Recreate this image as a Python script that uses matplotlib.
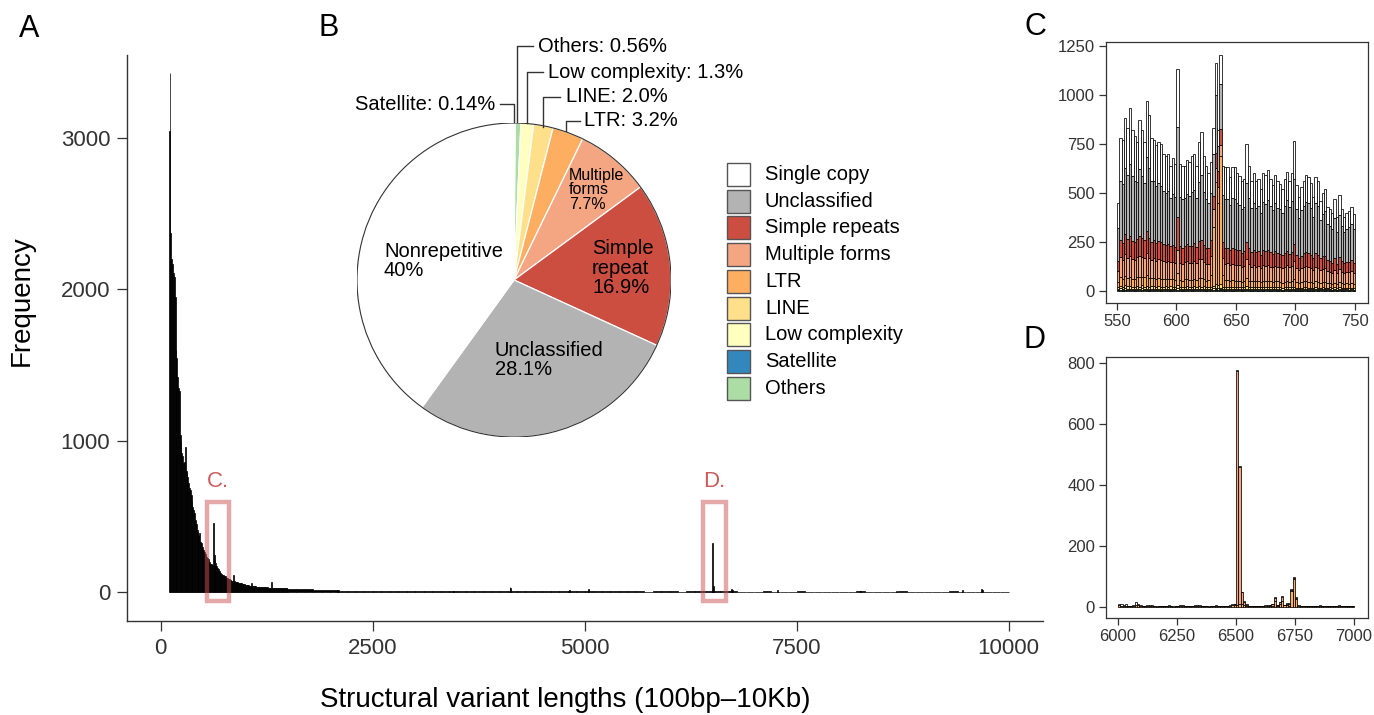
import numpy as np
import matplotlib
matplotlib.use("Agg")
import matplotlib.pyplot as plt
from matplotlib.patches import Rectangle, Circle

plt.rcParams['font.family'] = ['Liberation Sans', 'DejaVu Sans']

# ---------------- data ----------------
# Panel A : length histogram (10 bp bins for the head, coarse tail, tail spikes)
a_bin = 10
a_head_first = 100
a_head_counts = [
    3047, 3432, 2373, 2200, 2168, 2108, 2080, 1950, 1600, 1545,
    1423, 1348, 1330, 1040, 1000, 918, 900, 852, 860, 960,
    800, 787, 760, 720, 690, 674, 640, 600, 560, 542,
    520, 476, 450, 410, 395, 370, 390, 330, 322, 300,
    285, 278, 262, 250, 233, 225, 215, 200, 195, 188,
    182, 175, 459, 245, 210, 190, 170, 160, 150, 140,
    130, 125, 118, 115, 110, 108, 105, 100, 95, 92,
    88, 85, 82, 78, 75, 72, 112, 70, 68, 66,
    65, 63, 60, 58, 57, 56, 55, 53, 52, 50,
    48, 47, 46, 45, 44, 42, 41, 59, 40, 39,
    38, 38, 37, 36, 36, 35, 35, 34, 34, 33,
    33, 32, 32, 31, 31, 30, 30, 29, 29, 28,
    28, 66, 28, 27, 27, 27, 26, 26, 26, 26,
    26, 25, 25, 25, 24, 24, 24, 23, 23, 23,
    22]
a_tail_first = 1550
a_tail_bin = 100
a_tail_counts = [
    21, 19, 18, 16, 14,
    10, 9, 9, 8, 8, 7, 7, 7, 6, 6,
    6, 5, 5, 5, 5, 4, 5, 4, 4, 4,
    4, 4, 4, 4, 3, 4, 3, 3, 4, 3,
    3, 3, 3, 3, 3, 3, 3, 2, 3, 3,
    3, 2, 3, 3, 3, 3, 3, 3, 2, 2,
    2, 3, 2, 2, 2, 3, 2, 2, 2, 2,
    2, 2, 3, 2, 2, 2, 2, 3, 2, 2,
    2, 2, 2, 3, 2, 2, 2, 2, 2, 2]
a_spike_pos = [2090, 3450, 4120, 4130, 4820, 5040, 6510, 6520, 6730, 6740,
               7270, 8250, 8680, 9450, 9680, 9690]
a_spike_counts = [12, 9, 31, 28, 15, 22, 326, 40, 18, 14, 10, 5, 6, 14, 20, 12]
a_xticks = [0, 2500, 5000, 7500, 10000]
a_yticks = [0, 1000, 2000, 3000]

# Categories (legend order = top of stack first)
categories = ['Single copy', 'Unclassified', 'Simple repeats', 'Multiple forms',
              'LTR', 'LINE', 'Low complexity', 'Satellite', 'Others']
cat_colors = ['#ffffff', '#b3b3b3', '#cb4e41', '#f4a582', '#fdae61',
              '#fee08b', '#ffffbf', '#3288bd', '#abdda4']

# Panel B : pie (clockwise from 12 o'clock)
pie_cats = ['Satellite', 'Others', 'Low complexity', 'LINE', 'LTR',
            'Multiple forms', 'Simple repeats', 'Unclassified', 'Single copy']
pie_values = [0.14, 0.56, 1.3, 2.0, 3.2, 7.7, 16.9, 28.1, 40.0]

# Panel C : 550-750 bp, 2 bp bins, stacked by category
c_first = 550
c_bin = 2
c_single = [130, 218, 224, 251, 237, 286, 234, 229, 203, 250,
            231, 209, 285, 271, 218, 210, 211, 210, 212, 189,
            189, 190, 164, 185, 172, 293, 171, 170, 164, 176,
            176, 184, 187, 165, 206, 220, 184, 169, 152, 158,
            133, 167, 80, 147, 150, 161, 159, 143, 162, 163,
            153, 146, 140, 142, 199, 163, 138, 152, 138, 138,
            124, 146, 147, 153, 138, 129, 141, 134, 129, 122,
            134, 140, 129, 142, 194, 124, 105, 119, 126, 137,
            130, 125, 104, 130, 124, 99, 108, 114, 89, 87,
            85, 98, 78, 103, 89, 77, 83, 85, 88, 81]
c_unclass = [166, 300, 300, 340, 330, 370, 330, 310, 290, 340,
             320, 290, 380, 360, 310, 300, 290, 295, 290, 270,
             265, 270, 245, 260, 255, 457, 250, 250, 245, 255,
             255, 275, 270, 250, 300, 330, 270, 250, 230, 240,
             210, 293, 130, 231, 240, 250, 250, 230, 255, 255,
             240, 230, 225, 225, 300, 260, 225, 240, 225, 230,
             210, 245, 240, 255, 235, 220, 245, 230, 225, 215,
             240, 260, 240, 260, 330, 230, 205, 230, 240, 255,
             255, 240, 205, 255, 250, 195, 215, 225, 185, 180,
             170, 205, 162, 215, 180, 162, 170, 175, 185, 170]
c_simple = [50, 90, 90, 100, 95, 100, 95, 92, 95, 100,
            95, 92, 110, 100, 92, 94, 90, 92, 90, 88,
            86, 88, 84, 86, 82, 170, 84, 82, 84, 86,
            84, 86, 88, 82, 92, 96, 86, 82, 80, 85,
            70, 80, 80, 80, 82, 80, 80, 76, 80, 78,
            76, 76, 72, 74, 90, 80, 72, 76, 72, 74,
            68, 76, 74, 76, 72, 70, 74, 71, 70, 68,
            72, 74, 70, 72, 88, 68, 62, 66, 70, 72,
            72, 68, 62, 70, 68, 60, 64, 66, 56, 54,
            52, 60, 50, 62, 54, 50, 52, 54, 56, 52]
c_mult = [60, 100, 95, 110, 100, 105, 98, 96, 100, 108,
          100, 98, 115, 104, 96, 98, 94, 96, 95, 92,
          90, 92, 88, 90, 86, 120, 88, 86, 88, 90,
          88, 90, 92, 86, 96, 100, 90, 86, 84, 95,
          90, 70, 80, 60, 86, 84, 84, 80, 84, 82,
          80, 80, 76, 78, 96, 84, 76, 80, 76, 78,
          72, 80, 78, 80, 76, 74, 78, 75, 74, 72,
          76, 78, 74, 76, 92, 72, 66, 70, 74, 76,
          76, 72, 66, 74, 72, 64, 68, 70, 60, 58,
          56, 64, 54, 66, 58, 54, 56, 58, 60, 56]
c_ltr = [25, 45, 40, 50, 44, 48, 42, 40, 46, 50,
         44, 48, 52, 45, 40, 42, 38, 42, 40, 38,
         36, 38, 35, 37, 34, 60, 35, 33, 36, 38,
         35, 36, 38, 34, 40, 42, 36, 34, 32, 60,
         300, 520, 420, 650, 60, 36, 34, 30, 33, 32,
         30, 31, 28, 30, 40, 33, 28, 31, 29, 30,
         27, 31, 30, 32, 29, 28, 30, 29, 28, 27,
         29, 31, 28, 30, 38, 28, 25, 27, 28, 30,
         29, 28, 25, 29, 28, 24, 26, 27, 23, 22,
         21, 24, 20, 25, 22, 20, 21, 22, 23, 21]
c_line = [10, 14, 12, 15, 13, 14, 12, 13, 14, 12,
          15, 13, 16, 12, 13, 14, 12, 13, 14, 12,
          13, 12, 14, 12, 11, 15, 12, 11, 12, 13,
          12, 11, 13, 12, 14, 13, 12, 11, 12, 12,
          14, 18, 16, 20, 12, 11, 12, 11, 12, 11,
          11, 12, 10, 11, 13, 11, 12, 11, 10, 11,
          10, 12, 11, 10, 11, 10, 11, 12, 10, 9,
          10, 11, 10, 11, 12, 10, 9, 10, 11, 10,
          10, 9, 10, 11, 10, 9, 10, 10, 9, 10,
          9, 10, 9, 10, 9, 9, 10, 9, 9, 8]
c_lowc = [5, 7, 6, 8, 6, 7, 5, 6, 7, 6,
          8, 6, 7, 5, 6, 7, 6, 5, 6, 7,
          6, 5, 7, 6, 5, 8, 6, 5, 6, 7,
          6, 5, 6, 7, 6, 5, 6, 5, 6, 6,
          7, 9, 8, 9, 6, 5, 6, 5, 6, 5,
          6, 5, 5, 6, 7, 5, 6, 5, 5, 6,
          5, 6, 5, 5, 6, 5, 5, 6, 5, 4,
          5, 6, 5, 5, 6, 5, 4, 5, 6, 5,
          5, 4, 5, 6, 5, 4, 5, 5, 4, 5,
          4, 5, 4, 5, 4, 5, 4, 4, 5, 4]
c_sat = [1, 2, 1, 1, 2, 1, 1, 2, 1, 1,
         2, 1, 1, 1, 2, 1, 1, 2, 1, 1,
         1, 2, 1, 1, 1, 2, 1, 1, 2, 1,
         1, 1, 2, 1, 1, 1, 2, 1, 1, 1,
         2, 2, 1, 2, 1, 1, 1, 2, 1, 1,
         1, 1, 2, 1, 1, 1, 1, 2, 1, 1,
         1, 2, 1, 1, 1, 1, 2, 1, 1, 1,
         1, 1, 2, 1, 1, 1, 1, 1, 2, 1,
         1, 1, 1, 2, 1, 1, 1, 1, 1, 2,
         1, 1, 1, 1, 2, 1, 1, 1, 1, 1]
c_others = [3, 4, 2, 5, 3, 4, 3, 2, 4, 3,
            5, 3, 4, 2, 3, 4, 3, 5, 2, 3,
            4, 3, 2, 3, 4, 5, 3, 2, 3, 4,
            3, 2, 4, 3, 5, 3, 4, 2, 3, 3,
            4, 6, 5, 6, 3, 2, 4, 3, 2, 3,
            3, 4, 2, 3, 4, 3, 2, 3, 4, 2,
            3, 2, 4, 3, 2, 3, 4, 2, 3, 2,
            3, 4, 2, 3, 4, 2, 3, 2, 3, 4,
            2, 3, 2, 3, 2, 4, 3, 2, 3, 2,
            2, 3, 2, 3, 2, 2, 3, 2, 3, 2]
c_xticks = [550, 600, 650, 700, 750]
c_yticks = [0, 250, 500, 750, 1000, 1250]

# Panel D : 6000-7000 bp, 10 bp bins
d_first = 6000
d_bin = 10
d_single = [6, 5, 2, 5, 1, 2, 3, 8, 6, 2,
            1, 2, 3, 2, 3, 1, 2, 1, 2, 1,
            2, 3, 1, 2, 1, 2, 3, 4, 1, 2,
            1, 2, 3, 4, 3, 2, 1, 2, 1, 1,
            2, 3, 2, 1, 2, 1, 2, 3, 4, 2,
            3, 2, 1, 2, 1, 1, 2, 1, 2, 1,
            2, 1, 3, 4, 1, 2, 1, 2, 1, 2,
            1, 2, 3, 2, 1, 2, 1, 1, 2, 1,
            2, 1, 1, 2, 1, 3, 1, 2, 1, 1,
            2, 1, 2, 3, 1, 2, 1, 1, 2, 1]
d_mult = [0, 0, 1, 0, 0, 0, 0, 1, 0, 0,
          0, 0, 0, 0, 0, 0, 0, 0, 0, 0,
          0, 0, 0, 0, 0, 0, 1, 0, 0, 0,
          0, 0, 0, 1, 0, 0, 0, 0, 0, 0,
          0, 0, 0, 0, 0, 0, 0, 0, 2, 3,
          766, 450, 38, 10, 4, 1, 0, 0, 0, 0,
          0, 0, 0, 0, 1, 5, 10, 1, 6, 12,
          2, 3, 5, 5, 5, 5, 1, 0, 0, 0,
          0, 0, 0, 0, 0, 1, 0, 0, 0, 0,
          0, 0, 0, 0, 0, 0, 0, 0, 0, 0]
d_ltr = [4, 3, 1, 3, 1, 1, 2, 5, 4, 2,
         1, 1, 1, 2, 1, 1, 0, 1, 1, 1,
         1, 1, 1, 0, 1, 1, 2, 2, 1, 1,
         1, 1, 3, 2, 2, 1, 1, 1, 0, 1,
         1, 2, 1, 1, 1, 1, 1, 1, 4, 5,
         6, 8, 10, 6, 3, 1, 1, 1, 1, 1,
         1, 1, 2, 2, 3, 3, 20, 3, 8, 20,
         4, 6, 3, 50, 90, 25, 2, 1, 1, 1,
         1, 2, 1, 1, 1, 2, 1, 1, 1, 1,
         1, 1, 1, 2, 1, 1, 1, 1, 1, 1]
d_xticks = [6000, 6250, 6500, 6750, 7000]
d_yticks = [0, 200, 400, 600, 800]

# ---------------- figure ----------------
W, H = 1374, 715
fig = plt.figure(figsize=(W / 100, H / 100), dpi=100)
INK = '#333333'


def ax_px(l, t, r, b):
    return fig.add_axes([l / W, 1 - b / H, (r - l) / W, (b - t) / H])


def style_ticks(ax, size):
    ax.tick_params(direction='out', colors=INK, labelcolor=INK, labelsize=size,
                   width=0.9, length=5, pad=3)


color_of = dict(zip(categories, cat_colors))

# ---- Panel A ----
axA = ax_px(127, 55, 1043, 621)
head_x = a_head_first + a_bin * np.arange(len(a_head_counts))
tail_x = a_tail_first + a_tail_bin * np.arange(len(a_tail_counts))
bar_kw = dict(color='black', edgecolor='black', linewidth=0.5)
axA.bar(head_x, a_head_counts, width=a_bin, **bar_kw)
axA.bar(tail_x, a_tail_counts, width=a_tail_bin, **bar_kw)
axA.bar(a_spike_pos, a_spike_counts, width=a_bin, **bar_kw)
axA.set_xlim(-397, 10404)
axA.set_ylim(-192, 3549)
axA.set_xticks(a_xticks)
axA.set_yticks(a_yticks)
for s in ['top', 'right']:
    axA.spines[s].set_visible(False)
for s in ['left', 'bottom']:
    axA.spines[s].set_color(INK)
    axA.spines[s].set_linewidth(1.0)
style_ticks(axA, 16)
axA.tick_params(length=7, pad=5)

box_col = (0.8, 0.32, 0.32)
for x0, x1, lab in [(542, 802, 'C.'), (6392, 6663, 'D.')]:
    axA.add_patch(Rectangle((x0, -59), x1 - x0, 654, fill=False, edgecolor=box_col,
                            alpha=0.5, linewidth=3.2, zorder=5))
    axA.text((x0 + x1) / 2, 727, lab, color=(0.8, 0.36, 0.36), fontsize=16,
             ha='center', va='center', zorder=6)

fig.text(565 / W, 1 - 700 / H, 'Structural variant lengths (100bp\u201310Kb)',
         ha='center', va='center', fontsize=20)
fig.text(22 / W, 1 - 301 / H, 'Frequency', rotation=90, ha='center', va='center',
         fontsize=20)

# ---- Panel B (pie) ----
axB = ax_px(357, 123, 671, 437)
pie_cols = [color_of[c] for c in pie_cats]
axB.pie(pie_values, colors=pie_cols, startangle=90, counterclock=False, radius=1,
        wedgeprops=dict(edgecolor='white', linewidth=0.9))
axB.add_patch(Circle((0, 0), 1, fill=False, edgecolor=INK, linewidth=0.8))
axB.set_xlim(-1, 1)
axB.set_ylim(-1, 1)
axB.set_aspect('auto')
axB.axis('off')

# ---- overlay (pixel coordinates) for labels / legend ----
axO = fig.add_axes([0, 0, 1, 1], zorder=10)
axO.set_xlim(0, W)
axO.set_ylim(H, 0)
axO.axis('off')
axO.patch.set_alpha(0)

leaders = [
    ([517.3, 517.3, 533], [122, 46, 46], 'Others: 0.56%', 538, 46, 'left'),
    ([526.7, 526.7, 542.7], [123, 72, 72], 'Low complexity: 1.3%', 548, 72, 'left'),
    ([543.3, 543.3, 560], [127, 97, 97], 'LINE: 2.0%', 566, 97, 'left'),
    ([566, 566, 580], [131, 121, 121], 'LTR: 3.2%', 584, 121, 'left'),
    ([514, 514, 500], [122, 104, 104], 'Satellite: 0.14%', 495, 104, 'right'),
]
for xs, ys, txt, tx, ty, ha in leaders:
    axO.plot(xs, ys, color=INK, linewidth=1.0)
    axO.text(tx, ty, txt, ha=ha, va='center', fontsize=14.5)

axO.text(384, 261, 'Nonrepetitive\n40%', ha='left', va='center', fontsize=14.5,
         linespacing=1.05)
axO.text(495, 360, 'Unclassified\n28.1%', ha='left', va='center', fontsize=14.5,
         linespacing=1.05)
axO.text(592, 268, 'Simple\nrepeat\n16.9%', ha='left', va='center', fontsize=14.5,
         linespacing=1.05)
axO.text(569, 190, 'Multiple\nforms\n7.7%', ha='left', va='center', fontsize=11.5,
         linespacing=0.95)

for i, (cat, col) in enumerate(zip(categories, cat_colors)):
    y0 = 163 + 26.7 * i
    axO.add_patch(Rectangle((727, y0), 23, 23, facecolor=col, edgecolor='#555555',
                            linewidth=1.0))
    axO.text(765, y0 + 11.5, cat, ha='left', va='center', fontsize=14.5)

for lab, x, y in [('A', 29, 29), ('B', 329, 28), ('C', 1035, 27), ('D', 1035, 340)]:
    axO.text(x, y, lab, ha='center', va='center', fontsize=22)


# ---- Panels C and D (stacked histograms) ----
def stacked(ax, first, width, data):
    n = len(next(iter(data.values())))
    x = first + width / 2 + width * np.arange(n)
    bottom = np.zeros(n)
    for cat in reversed(categories):
        if cat not in data:
            continue
        vals = np.asarray(data[cat], dtype=float)
        ax.bar(x, vals, width=width, bottom=bottom, color=color_of[cat],
               edgecolor='black', linewidth=0.55)
        bottom += vals


axC = ax_px(1106, 42, 1368, 303)
stacked(axC, c_first, c_bin, {
    'Single copy': c_single, 'Unclassified': c_unclass, 'Simple repeats': c_simple,
    'Multiple forms': c_mult, 'LTR': c_ltr, 'LINE': c_line,
    'Low complexity': c_lowc, 'Satellite': c_sat, 'Others': c_others})
axC.set_xlim(540.8, 761)
axC.set_ylim(-61, 1270)
axC.set_xticks(c_xticks)
axC.set_yticks(c_yticks)

axD = ax_px(1106, 357, 1368, 618)
stacked(axD, d_first, d_bin, {
    'Single copy': d_single, 'Multiple forms': d_mult, 'LTR': d_ltr})
axD.set_xlim(5949, 7059)
axD.set_ylim(-37, 819)
axD.set_xticks(d_xticks)
axD.set_yticks(d_yticks)

for ax in (axC, axD):
    for s in ax.spines.values():
        s.set_color(INK)
        s.set_linewidth(0.9)
    style_ticks(ax, 12)

fig.savefig('out.png', dpi=100)
